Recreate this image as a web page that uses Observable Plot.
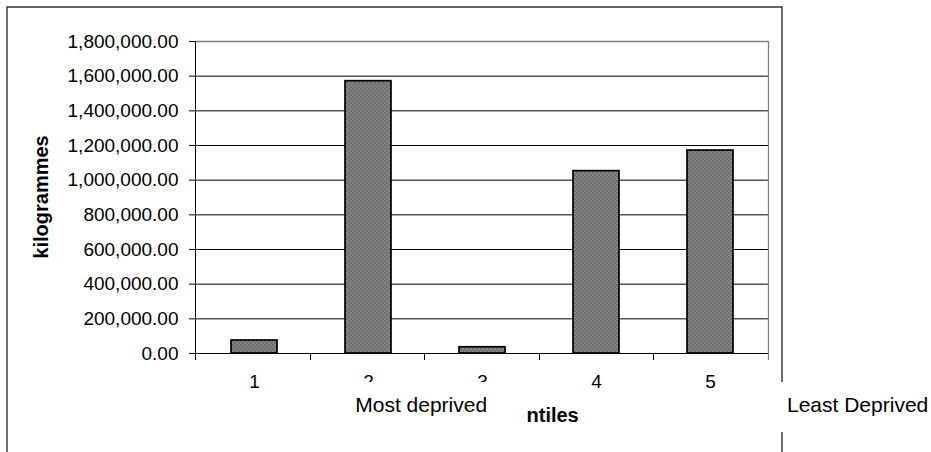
<!DOCTYPE html>
<html>
<head>
<meta charset="utf-8">
<script src="https://cdn.jsdelivr.net/npm/d3@7"></script>
<script src="https://cdn.jsdelivr.net/npm/@observablehq/plot@0.6"></script>
<style>
  html, body { margin: 0; padding: 0; background: #fff; }
  #chart { width: 931px; height: 452px; }
</style>
</head>
<body>
<div id="chart"></div>
<script>
// ---- data ----
const quintiles = ["1", "2", "3", "4", "5"];
const kilogrammes = [75000, 1571000, 36000, 1052000, 1171000];
const yTicks = [0, 200000, 400000, 600000, 800000, 1000000, 1200000, 1400000, 1600000, 1800000];
const yTitle = "kilogrammes";
const xTitle = "ntiles";
const leftNote = "Most deprived";
const rightNote = "Least Deprived";

const rows = quintiles.map((q, i) => ({q, kg: kilogrammes[i]}));
const FONT = "'Liberation Sans', Arial, Helvetica, sans-serif";

// decorations drawn relative to the plot frame
function decorations(index, scales, values, dims) {
  const {width, height, marginLeft, marginTop, marginRight, marginBottom} = dims;
  const L = marginLeft, R = width - marginRight, T = marginTop, B = height - marginBottom;
  const n = quintiles.length, step = (R - L) / n;
  const g = d3.create("svg:g");
  // plot-area border (grey top and right)
  g.append("line").attr("x1", L).attr("x2", R + 0.5).attr("y1", T + 0.5).attr("y2", T + 0.5)
    .attr("stroke", "#808080").attr("stroke-width", 1.3);
  g.append("line").attr("x1", R + 0.5).attr("x2", R + 0.5).attr("y1", T).attr("y2", B + 7)
    .attr("stroke", "#808080").attr("stroke-width", 1.3);
  // left axis line
  g.append("line").attr("x1", L + 0.5).attr("x2", L + 0.5).attr("y1", T).attr("y2", B + 7)
    .attr("stroke", "#000");
  // bottom axis line
  g.append("line").attr("x1", L).attr("x2", R).attr("y1", B + 0.5).attr("y2", B + 0.5)
    .attr("stroke", "#000");
  // category boundary ticks
  for (let i = 1; i < n; ++i) {
    const x = Math.round(L + i * step) + 0.5;
    g.append("line").attr("x1", x).attr("x2", x).attr("y1", B).attr("y2", B + 7).attr("stroke", "#000");
  }
  // outer chart frame
  const fL = 7, fT = 7, fR = R + 14;
  g.append("path").attr("d", `M${fL},${height}V${fT}H${fR}V${height}`)
    .attr("fill", "none").attr("stroke", "#333").attr("stroke-width", 1.4);
  // y title
  g.append("text").attr("transform", `translate(${fL + 41},${(T + B) / 2}) rotate(-90)`)
    .attr("text-anchor", "middle").attr("font-weight", "bold").attr("font-size", 20)
    .attr("font-family", FONT).attr("fill", "#000").text(yTitle);
  // x title
  g.append("text").attr("x", (L + R) / 2 + 45).attr("y", B + 69)
    .attr("text-anchor", "start").attr("font-weight", "bold").attr("font-size", 20)
    .attr("font-family", FONT).attr("fill", "#000").text(xTitle);
  // "Most deprived" box (covers lower part of labels 2 and 3)
  const mx = L + 2 * step - 3;
  g.append("rect").attr("x", mx - 71).attr("y", B + 29).attr("width", 142).attr("height", 50).attr("fill", "#fff");
  g.append("text").attr("x", mx).attr("y", B + 59).attr("text-anchor", "middle")
    .attr("font-size", 21).attr("font-family", FONT).attr("fill", "#000").text(leftNote);
  // "Least Deprived" box (covers part of the outer frame)
  g.append("rect").attr("x", R + 10).attr("y", B + 29).attr("width", width - R - 10).attr("height", 50).attr("fill", "#fff");
  g.append("text").attr("x", R + 19).attr("y", B + 59).attr("text-anchor", "start")
    .attr("font-size", 21).attr("font-family", FONT).attr("fill", "#000").text(rightNote);
  return g.node();
}

const chart = Plot.plot({
  width: 931,
  height: 452,
  marginLeft: 195,
  marginRight: 163,
  marginTop: 41,
  marginBottom: 99,
  style: {fontFamily: FONT, fontSize: "19px", color: "#000", background: "#fff", overflow: "visible"},
  x: {domain: quintiles, paddingInner: 0.6, paddingOuter: 0.3, label: null},
  y: {domain: [0, 1800000], label: null},
  marks: [
    Plot.gridY(yTicks.filter(d => d > 0 && d < 1800000), {stroke: "#000", strokeOpacity: 1, strokeWidth: 1}),
    Plot.barY(rows, {x: "q", y: "kg", fill: "url(#checker)", stroke: "#000", strokeWidth: 1.7}),
    Plot.axisY({ticks: yTicks, tickFormat: d3.format(",.2f"), tickSize: 6, tickPadding: 11, fontSize: 19, label: null}),
    Plot.axisX({tickSize: 0, tickPadding: 21, fontSize: 19, label: null}),
    decorations
  ]
});

// checkered fill pattern for the bars
const defs = d3.select(chart).insert("defs", ":first-child");
const pat = defs.append("pattern").attr("id", "checker").attr("width", 4).attr("height", 4)
  .attr("patternUnits", "userSpaceOnUse");
pat.append("rect").attr("width", 4).attr("height", 4).attr("fill", "#858585");
pat.append("rect").attr("width", 2).attr("height", 2).attr("fill", "#6f6f6f");
pat.append("rect").attr("x", 2).attr("y", 2).attr("width", 2).attr("height", 2).attr("fill", "#6f6f6f");

document.getElementById("chart").appendChild(chart);
</script>
</body>
</html>
